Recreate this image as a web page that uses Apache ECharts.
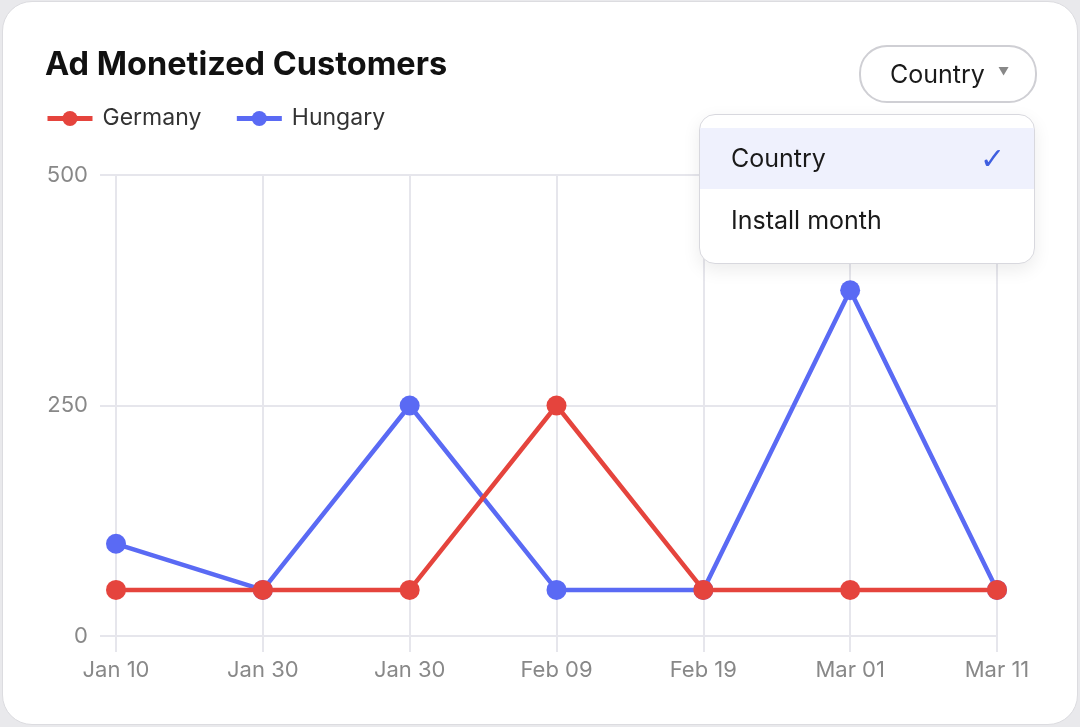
<!DOCTYPE html>
<html>
<head>
<meta charset="utf-8">
<script src="https://cdn.jsdelivr.net/npm/echarts@6/dist/echarts.min.js"></script>
<style>
  html, body { margin: 0; padding: 0; background: #e9e9ec; font-family: Inter, "Noto Sans", sans-serif; }
  #card {
    position: absolute; left: 2px; top: 1px; width: 1074px; height: 722px;
    background: #fff; border-radius: 30px; border: 1px solid #dcdce0; overflow: hidden;
  }
  #chart { position: absolute; left: -3px; top: -2px; width: 1080px; height: 727px; }
  #btn {
    position: absolute; left: 856px; top: 43px; width: 174px; height: 54px;
    border: 2px solid #cfcfd4; border-radius: 28px; background: #fff;
    font-size: 25px; color: #1a1a1a; line-height: 54px; box-sizing: content-box;
  }
  #btn .lbl { position: absolute; left: 29px; top: 0; }
  #btn .arr { position: absolute; left: 137px; top: -3px; font-size: 11px; color: #888; }
  #menu {
    position: absolute; left: 696px; top: 112px; width: 334px; height: 148px;
    border: 1px solid #d8d8de; border-radius: 16px; background: #fff;
    box-shadow: 0 6px 18px rgba(0,0,0,0.08); overflow: hidden;
  }
  .row { position: absolute; left: 0; width: 334px; height: 61px; font-size: 25px; color: #1a1a1a; line-height: 61px; }
  .row span { position: absolute; left: 31px; }
  .row.sel { background: #eff1fd; }
  .row .chk { left: 280px; color: #3f5fe0; font-size: 30px; font-family: "DejaVu Sans", sans-serif; }
</style>
</head>
<body>
<div id="card">
  <div id="chart"></div>
  <div id="btn"><span class="lbl">Country</span><span class="arr">▼</span></div>
  <div id="menu">
    <div class="row sel" style="top:13px"><span>Country</span><span class="chk">✓</span></div>
    <div class="row" style="top:75px"><span>Install month</span></div>
  </div>
</div>
<script>
// data
const categories = ['Jan 10', 'Jan 30', 'Jan 30', 'Feb 09', 'Feb 19', 'Mar 01', 'Mar 11'];
const germany = [50, 50, 50, 250, 50, 50, 50];
const hungary = [100, 50, 250, 50, 50, 375, 50];
const yTicks = [0, 250, 500];

const red = '#e5443d';
const blue = '#5a6af4';
const gridColor = '#e6e6ec';

const chart = echarts.init(document.getElementById('chart'), null, { renderer: 'canvas' });

function lineSeries(name, data, color) {
  return {
    name: name,
    type: 'line',
    data: data,
    symbol: 'circle',
    symbolSize: 20,
    color: color,
    lineStyle: { width: 4.5, color: color },
    itemStyle: { color: color },
    z: name === 'Germany' ? 3 : 2
  };
}

chart.setOption({
  animation: false,
  textStyle: { fontFamily: 'Inter' },
  title: {
    text: 'Ad Monetized Customers',
    left: 40, top: 44,
    textStyle: { fontSize: 32.5, fontWeight: 700, color: '#111', fontFamily: 'Inter' }
  },
  legend: {
    left: 40, top: 102,
    itemWidth: 45, itemHeight: 19, itemGap: 33,
    lineStyle: { width: 5 },
    textStyle: { fontSize: 23, color: '#333', fontFamily: 'Inter', padding: [0, 0, 0, 5] },
    data: ['Germany', 'Hungary']
  },
  grid: { left: 116, right: 83, top: 175, bottom: 91, containLabel: false },
  xAxis: {
    type: 'category',
    data: categories,
    boundaryGap: false,
    axisLine: { show: true, lineStyle: { color: gridColor, width: 2 } },
    axisTick: { show: true, length: 16, lineStyle: { color: gridColor, width: 2 } },
    splitLine: { show: true, lineStyle: { color: gridColor, width: 2 } },
    axisLabel: { fontSize: 22, color: '#888', margin: 23, fontFamily: 'Inter', interval: 0 }
  },
  yAxis: {
    type: 'value',
    min: yTicks[0], max: yTicks[yTicks.length - 1], interval: yTicks[1] - yTicks[0],
    axisLine: { show: false },
    axisTick: { show: true, length: 16, lineStyle: { color: gridColor, width: 2 } },
    splitLine: { show: true, lineStyle: { color: gridColor, width: 2 } },
    axisLabel: { fontSize: 22, color: '#888', margin: 28, fontFamily: 'Inter' }
  },
  series: [
    lineSeries('Germany', germany, red),
    lineSeries('Hungary', hungary, blue)
  ]
});
</script>
</body>
</html>
